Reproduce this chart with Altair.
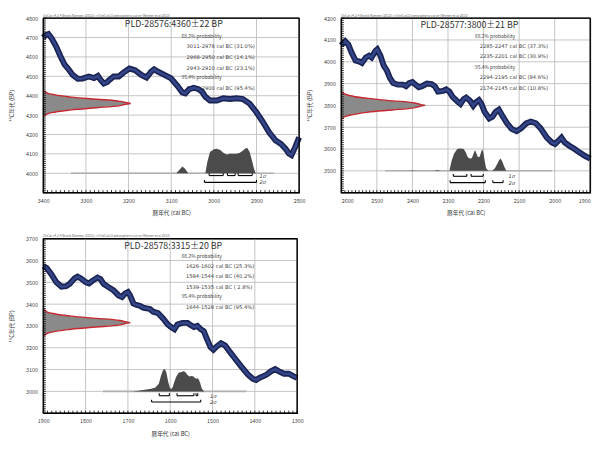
import altair as alt
import pandas as pd

FONT = "Noto Sans CJK JP"
RANGE_FONT = "DejaVu Sans"
HEADER = "OxCal v4.2.4 Bronk Ramsey (2013); r:5 IntCal13 atmospheric curve (Reimer et al 2013)"
X_TITLE = "暦年代 (cal BC)"
Y_TITLE = "¹⁴C年代 (BP)"

# relative width of the measured 14C date (gaussian), bottom -> top
gauss_rel = [0.01, 0.04, 0.14, 0.32, 0.61, 0.88, 1.0, 0.88, 0.61, 0.32, 0.14, 0.04, 0.01]

# ---------------- Panel 1 : PLD-28576 ----------------
p1_title = "PLD-28576:4360±22 BP"
p1_xdom = [2800, 3400]
p1_ydom = [3900, 4800]
p1_xticks = [2800, 2900, 3000, 3100, 3200, 3300, 3400]
p1_yticks = [4000, 4100, 4200, 4300, 4400, 4500, 4600, 4700, 4800]
p1_curve_year = [3400, 3395, 3388, 3380, 3370, 3360, 3350, 3342, 3331, 3319, 3308, 3293, 3281,
                 3272, 3266, 3258, 3250, 3247, 3235, 3223, 3212, 3198, 3185, 3170, 3158, 3147,
                 3140, 3131, 3116, 3101, 3085, 3074, 3067, 3058, 3047, 3035, 3028, 3020, 3009,
                 2993, 2978, 2962, 2947, 2932, 2916, 2901, 2886, 2870, 2855, 2843, 2832, 2824,
                 2818, 2809, 2800]
p1_curve_bp = [4700, 4712, 4718, 4695, 4655, 4605, 4560, 4540, 4507, 4487, 4488, 4499, 4491,
               4502, 4483, 4463, 4470, 4478, 4499, 4499, 4519, 4540, 4532, 4507, 4494, 4524,
               4536, 4524, 4507, 4491, 4450, 4417, 4412, 4433, 4441, 4433, 4421, 4395, 4375,
               4375, 4387, 4383, 4387, 4383, 4359, 4317, 4268, 4210, 4169, 4152, 4127, 4102,
               4094, 4136, 4185]
p1_gauss_bp = [4294, 4305, 4316, 4327, 4338, 4349, 4360, 4371, 4382, 4393, 4404, 4415, 4426]
p1_gauss_max = 205
p1_dist_year = [3088, 3080, 3074, 3068, 3060, 3020, 3015, 3009, 3000, 2993, 2985, 2977, 2970,
                2962, 2955, 2948, 2940, 2933, 2926, 2922, 2916, 2910, 2906, 2902]
p1_dist_h = [0, 20, 35, 25, 0, 0, 60, 110, 124, 127, 120, 104, 97, 100, 100, 100, 104, 115,
             128, 131, 110, 60, 25, 0]
p1_base = 4000
p1_base_span = [3335, 2859]
p1_s1 = [[3011, 2978], [2968, 2950], [2943, 2910]]
p1_s2 = [[3022, 2900]]
p1_s_levels = [3988, 3953]
p1_tick = 12
p1_sig_x = 2893
p1_title_pos = [3094, 4770]
p1_prob_x = [3076, 3064]
p1_prob_y = [4710, 4655, 4600, 4545, 4495, 4440]
p1_prob_txt = ["68.2% probability", "3011-2978 cal BC (31.0%)", "2968-2950 cal BC (14.1%)",
               "2943-2910 cal BC (23.1%)", "95.4% probability", "3022-2900 cal BC (95.4%)"]

# ---------------- Panel 2 : PLD-28577 ----------------
p2_title = "PLD-28577:3800±21 BP"
p2_xdom = [1900, 2600]
p2_ydom = [3400, 4200]
p2_xticks = [1900, 2000, 2100, 2200, 2300, 2400, 2500, 2600]
p2_yticks = [3500, 3600, 3700, 3800, 3900, 4000, 4100, 4200]
p2_curve_year = [2600, 2598, 2589, 2580, 2571, 2560, 2549, 2542, 2531, 2522, 2515, 2504, 2499,
                 2490, 2481, 2472, 2463, 2454, 2441, 2427, 2418, 2409, 2400, 2391, 2382, 2373,
                 2359, 2346, 2337, 2328, 2314, 2305, 2296, 2287, 2274, 2265, 2256, 2249, 2238,
                 2229, 2222, 2213, 2206, 2197, 2184, 2175, 2166, 2157, 2148, 2134, 2121, 2107,
                 2094, 2080, 2067, 2053, 2040, 2022, 2008, 1999, 1990, 1981, 1972, 1959, 1945,
                 1932, 1914, 1900]
p2_curve_bp = [4075, 4079, 4094, 4079, 4042, 4006, 4001, 3995, 4020, 4028, 4020, 4050, 4057,
               4028, 3983, 3961, 3925, 3902, 3895, 3895, 3888, 3902, 3907, 3895, 3883, 3888,
               3900, 3898, 3888, 3863, 3866, 3873, 3863, 3839, 3819, 3807, 3829, 3836, 3821,
               3799, 3814, 3824, 3807, 3770, 3740, 3748, 3770, 3780, 3755, 3718, 3692, 3682,
               3696, 3718, 3726, 3718, 3696, 3652, 3630, 3623, 3637, 3652, 3630, 3615, 3601,
               3586, 3567, 3556]
p2_gauss_bp = [3737, 3748, 3758, 3769, 3779, 3790, 3800, 3811, 3821, 3832, 3842, 3853, 3863]
p2_gauss_max = 236
p2_dist_year = [2410, 2400, 2390, 2340, 2330, 2320, 2296, 2290, 2283, 2274, 2265, 2256, 2250,
                2245, 2240, 2233, 2228, 2224, 2220, 2216, 2211, 2207, 2204, 2200, 2197, 2193,
                2186, 2176, 2168, 2162, 2156, 2152, 2147, 2142, 2136]
p2_dist_h = [0, 3, 0, 0, 4, 0, 0, 45, 78, 100, 102, 100, 85, 65, 56, 58, 80, 96, 80, 63, 65,
             85, 100, 80, 49, 12, 0, 0, 12, 30, 50, 56, 42, 20, 0]
p2_base = 3500
p2_base_span = [2477, 2008]
p2_s1 = [[2285, 2247], [2235, 2201]]
p2_s2 = [[2294, 2195], [2174, 2145]]
p2_s_levels = [3475, 3446]
p2_tick = 11
p2_sig_x = 2130
p2_title_pos = [2240, 4170]
p2_prob_x = [2224, 2211]
p2_prob_y = [4119, 4072, 4025, 3976, 3929, 3880]
p2_prob_txt = ["68.2% probability", "2285-2247 cal BC (37.3%)", "2235-2201 cal BC (30.9%)",
               "95.4% probability", "2294-2195 cal BC (84.6%)", "2174-2145 cal BC (10.8%)"]

# ---------------- Panel 3 : PLD-28578 ----------------
p3_title = "PLD-28578:3315±20 BP"
p3_xdom = [1300, 1900]
p3_ydom = [2900, 3700]
p3_xticks = [1300, 1400, 1500, 1600, 1700, 1800, 1900]
p3_yticks = [3000, 3100, 3200, 3300, 3400, 3500, 3600, 3700]
p3_curve_year = [1900, 1892, 1881, 1869, 1857, 1846, 1838, 1826, 1819, 1811, 1799, 1792, 1784,
                 1772, 1765, 1757, 1745, 1734, 1722, 1714, 1707, 1700, 1695, 1687, 1679, 1672,
                 1664, 1656, 1648, 1641, 1629, 1617, 1606, 1598, 1590, 1583, 1571, 1559, 1552,
                 1544, 1536, 1528, 1521, 1513, 1505, 1498, 1490, 1480, 1470, 1459, 1447, 1432,
                 1416, 1405, 1397, 1389, 1381, 1372, 1362, 1352, 1343, 1331, 1320, 1308, 1300]
p3_curve_bp = [3574, 3566, 3537, 3500, 3480, 3482, 3492, 3518, 3526, 3518, 3500, 3495, 3507,
               3522, 3515, 3492, 3477, 3463, 3440, 3433, 3448, 3455, 3440, 3403, 3396, 3393,
               3384, 3381, 3378, 3366, 3359, 3334, 3307, 3295, 3285, 3307, 3314, 3314, 3304,
               3295, 3300, 3285, 3277, 3240, 3203, 3191, 3206, 3221, 3210, 3181, 3151, 3114,
               3077, 3058, 3052, 3062, 3069, 3077, 3092, 3102, 3092, 3081, 3081, 3069, 3062]
p3_gauss_bp = [3255, 3265, 3275, 3285, 3295, 3305, 3315, 3325, 3335, 3345, 3355, 3365, 3375]
p3_gauss_max = 206
p3_dist_year = [1690, 1675, 1660, 1645, 1635, 1627, 1622, 1617, 1613, 1609, 1605, 1601, 1598,
                1594, 1590, 1585, 1580, 1574, 1568, 1564, 1559, 1555, 1550, 1546, 1542, 1539,
                1535, 1532, 1529, 1526, 1522, 1519]
p3_dist_h = [0, 3, 8, 12, 18, 35, 70, 98, 103, 85, 45, 18, 10, 20, 45, 70, 85, 89, 92, 88, 75,
             68, 70, 69, 62, 58, 60, 52, 37, 15, 4, 0]
p3_base = 3000
p3_base_span = [1759, 1420]
p3_s1 = [[1626, 1602], [1584, 1544], [1539, 1535]]
p3_s2 = [[1644, 1528]]
p3_s_levels = [2980, 2951]
p3_tick = 11
p3_sig_x = 1506
p3_title_pos = [1593, 3665]
p3_prob_x = [1573, 1563]
p3_prob_y = [3621, 3577, 3529, 3480, 3437, 3388]
p3_prob_txt = ["68.2% probability", "1626-1602 cal BC (25.3%)", "1584-1544 cal BC (40.2%)",
               "1539-1535 cal BC ( 2.8%)", "95.4% probability", "1644-1528 cal BC (95.4%)"]


def panel(title, xdom, ydom, xticks, yticks, cy, cb, gbp, gmax, dy, dh, base, bspan,
          s1, s2, slev, tick, sig_x, tpos, pxs, pys, ptxt, width, height, flush):
    xs = alt.Scale(domain=xdom, reverse=True, nice=False, zero=False)
    ys = alt.Scale(domain=ydom, nice=False, zero=False)
    left, right = xdom[1], xdom[0]
    bottom, top = ydom[0], ydom[1]
    xaxis = alt.Axis(orient="bottom", values=xticks, grid=False, ticks=False,
                     domain=False, format="d", labelFlush=flush,
                     labelFontSize=5.5, labelColor="#444", labelPadding=6,
                     title=X_TITLE, titleFontSize=5.8, titleFontWeight="normal",
                     titleColor="#333", titlePadding=6)
    yaxis = alt.Axis(orient="left", values=yticks, grid=False, ticks=False,
                     domain=False, format="d",
                     labelFontSize=5.5, labelColor="#444", labelPadding=6,
                     title=Y_TITLE, titleFontSize=5.8, titleFontWeight="normal",
                     titleColor="#333", titlePadding=11)

    def X(f, **kw):
        return alt.X(f, type="quantitative", scale=xs, axis=xaxis, **kw)

    def Y(f, **kw):
        return alt.Y(f, type="quantitative", scale=ys, axis=yaxis, **kw)

    # grid lines at the labelled 100-year / 100-BP positions
    gxd = pd.DataFrame({"v": xticks, "a": bottom, "b": top})
    gyd = pd.DataFrame({"v": yticks, "a": left, "b": right})
    gx = alt.Chart(gxd).mark_rule(color="#bdbdbd", strokeWidth=0.9).encode(
        x=X("v"), y=Y("a"), y2=alt.Y2("b"))
    gy = alt.Chart(gyd).mark_rule(color="#bdbdbd", strokeWidth=0.9).encode(
        y=Y("v"), x=X("a"), x2=alt.X2("b"))

    gdf = pd.DataFrame({"bp": gbp, "rel": gauss_rel})
    gdf["x"] = left - gdf["rel"] * gmax
    gdf["x0"] = left
    gauss_area = alt.Chart(gdf).mark_area(orient="horizontal", color="#8a8a8a",
                                          interpolate="monotone").encode(
        y=Y("bp"), x=X("x"), x2=alt.X2("x0"))
    gauss_line = alt.Chart(gdf).mark_line(orient="horizontal", color="#c62a30", strokeWidth=1.4,
                                          interpolate="monotone").encode(
        y=Y("bp"), x=X("x"), order=alt.Order("bp:Q"))

    bdf = pd.DataFrame({"a": [bspan[0]], "b": [bspan[1]], "y": [base]})
    baseline = alt.Chart(bdf).mark_rule(color="#b0b0b0", strokeWidth=1.6).encode(
        x=X("a"), x2=alt.X2("b"), y=Y("y"))

    ddf = pd.DataFrame({"year": dy, "h": dh})
    ddf["top"] = base + ddf["h"]
    ddf["base"] = base
    dist = alt.Chart(ddf).mark_area(color="#4b4b4b").encode(
        x=X("year"), y=Y("top"), y2=alt.Y2("base"))

    hrows, vrows = [], []
    for lev, ranges in zip(slev, [s1, s2]):
        for a, b in ranges:
            hrows.append({"a": a, "b": b, "y": lev})
            vrows.append({"x": a, "y": lev, "y2": lev + tick})
            vrows.append({"x": b, "y": lev, "y2": lev + tick})
    hb = alt.Chart(pd.DataFrame(hrows)).mark_rule(color="black", strokeWidth=1.1).encode(
        x=X("a"), x2=alt.X2("b"), y=Y("y"))
    vb = alt.Chart(pd.DataFrame(vrows)).mark_rule(color="black", strokeWidth=1.1).encode(
        x=X("x"), y=Y("y"), y2=alt.Y2("y2"))

    sdf = pd.DataFrame({"x": [sig_x, sig_x], "y": slev, "t": ["1σ", "2σ"]})
    sig = alt.Chart(sdf).mark_text(align="left", baseline="middle", fontSize=5.3,
                                   fontStyle="italic", color="#444", font=RANGE_FONT).encode(
        x=X("x"), y=Y("y"), text="t:N")

    tdf = pd.DataFrame({"x": [tpos[0]], "y": [tpos[1]], "t": [title]})
    ttl = alt.Chart(tdf).mark_text(align="center", baseline="middle", fontSize=9,
                                   color="#333").encode(x=X("x"), y=Y("y"), text="t:N")

    pdf = pd.DataFrame({"x": [pxs[0] if "probability" in t else pxs[1] for t in ptxt],
                        "y": pys, "t": ptxt})
    hdr_rows = pdf[pdf["t"].str.contains("probability")]
    rng_rows = pdf[~pdf["t"].str.contains("probability")]
    prob_h = alt.Chart(hdr_rows).mark_text(align="left", baseline="middle", fontSize=5.0,
                                           color="#444").encode(
        x=X("x"), y=Y("y"), text="t:N")
    prob_r = alt.Chart(rng_rows).mark_text(align="left", baseline="middle", fontSize=5.3,
                                           color="#444", font=RANGE_FONT).encode(
        x=X("x"), y=Y("y"), text="t:N")

    cdf = pd.DataFrame({"year": cy, "bp": cb})
    curve_outer = alt.Chart(cdf).mark_line(color="#1b2453", strokeWidth=6.0).encode(
        x=X("year"), y=Y("bp"))
    curve_inner = alt.Chart(cdf).mark_line(color="#34478b", strokeWidth=2.5).encode(
        x=X("year"), y=Y("bp"))

    # inward minor ticks every 10 years / 10 BP along the bottom and left edges (~2.6 px long)
    ylen = (top - bottom) * 2.6 / height
    xlen = (left - right) * 2.6 / width
    mx = pd.DataFrame({"v": list(range(right, left + 1, 10)), "a": bottom, "b": bottom + ylen})
    my = pd.DataFrame({"v": list(range(bottom, top + 1, 10)), "a": left, "b": left - xlen})
    minor_x = alt.Chart(mx).mark_rule(color="black", strokeWidth=0.8).encode(
        x=X("v"), y=Y("a"), y2=alt.Y2("b"))
    minor_y = alt.Chart(my).mark_rule(color="black", strokeWidth=0.8).encode(
        y=Y("v"), x=X("a"), x2=alt.X2("b"))

    # plot frame
    fh = pd.DataFrame({"y": [bottom, top], "a": left, "b": right})
    fv = pd.DataFrame({"x": [left, right], "a": bottom, "b": top})
    frame_h = alt.Chart(fh).mark_rule(color="black", strokeWidth=1.3).encode(
        y=Y("y"), x=X("a"), x2=alt.X2("b"))
    frame_v = alt.Chart(fv).mark_rule(color="black", strokeWidth=1.3).encode(
        x=X("x"), y=Y("a"), y2=alt.Y2("b"))

    hdr = alt.Chart(pd.DataFrame({"t": [HEADER]})).mark_text(
        align="left", baseline="bottom", fontSize=3.3, color="#666").encode(
        x=alt.value(0), y=alt.value(-0.5), text="t:N")

    return alt.layer(gx, gy, gauss_area, gauss_line, baseline, dist, hb, vb, sig, ttl,
                     prob_h, prob_r, curve_outer, curve_inner, minor_x, minor_y, frame_h,
                     frame_v, hdr).properties(width=width, height=height)


p1 = panel(p1_title, p1_xdom, p1_ydom, p1_xticks, p1_yticks, p1_curve_year, p1_curve_bp,
           p1_gauss_bp, p1_gauss_max, p1_dist_year, p1_dist_h, p1_base, p1_base_span,
           p1_s1, p1_s2, p1_s_levels, p1_tick, p1_sig_x, p1_title_pos, p1_prob_x, p1_prob_y,
           p1_prob_txt, 261, 178, False)
p2 = panel(p2_title, p2_xdom, p2_ydom, p2_xticks, p2_yticks, p2_curve_year, p2_curve_bp,
           p2_gauss_bp, p2_gauss_max, p2_dist_year, p2_dist_h, p2_base, p2_base_span,
           p2_s1, p2_s2, p2_s_levels, p2_tick, p2_sig_x, p2_title_pos, p2_prob_x, p2_prob_y,
           p2_prob_txt, 254, 178, True)
p3 = panel(p3_title, p3_xdom, p3_ydom, p3_xticks, p3_yticks, p3_curve_year, p3_curve_bp,
           p3_gauss_bp, p3_gauss_max, p3_dist_year, p3_dist_h, p3_base, p3_base_span,
           p3_s1, p3_s2, p3_s_levels, p3_tick, p3_sig_x, p3_title_pos, p3_prob_x, p3_prob_y,
           p3_prob_txt, 259, 178, False)

chart = alt.concat(p1, p2, p3, columns=2, spacing={"row": 47, "column": 43},
                   bounds="flush").properties(padding=0).configure_view(
    stroke="black", strokeWidth=1.3).configure_text(font=FONT).configure_axis(
    labelFont=FONT, titleFont=FONT)

chart.save("out.html", embed_options={"renderer": "svg", "actions": False})
